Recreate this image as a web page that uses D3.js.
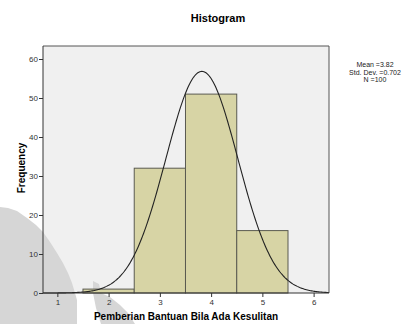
<!DOCTYPE html>
<html>
<head>
<meta charset="utf-8">
<script src="https://cdn.jsdelivr.net/npm/d3@7"></script>
<style>
  html, body { margin: 0; padding: 0; background: #fff; }
  svg { display: block; font-family: Arial, "Liberation Sans", sans-serif; }
</style>
</head>
<body>
<svg id="chart" width="408" height="324"></svg>
<script>
// Histogram bins: centre value and count (bin width 1)
const binCenters = [2, 3, 4, 5];
const binCounts = [1, 32, 51, 16];
const yTicks = [0, 10, 20, 30, 40, 50, 60];
const xTicks = [1, 2, 3, 4, 5, 6];
const stats = { mean: 3.82, sd: 0.702, n: 100 };
const statLines = ["Mean =3.82", "Std. Dev. =0.702", "N =100"];

const svg = d3.select("#chart");
const plot = { left: 43, right: 329, top: 46, bottom: 293 };

const x = d3.scaleLinear().domain([0.72, 6.3]).range([plot.left, plot.right]);
const y = d3.scaleLinear().domain([0, 60]).range([plot.bottom, 59]);

// plot background
svg.append("rect")
  .attr("x", plot.left).attr("y", plot.top)
  .attr("width", plot.right - plot.left).attr("height", plot.bottom - plot.top)
  .attr("fill", "#f0f0f0");

// grey shading in the lower-left corner
const shadeA = [[0,207],[8,208],[17,211],[27,218],[36,225],[43,232],[50,242],[57,253],[63,263],[68,273],[72,283],[75,293],[77,300],[77,324],[0,324]];
const shadeB = [[93,281],[99,284],[101,293],[110,297],[120,305],[128,313],[135,324],[101,324],[96,308],[93,293]];
svg.selectAll("path.shade").data([shadeA, shadeB]).join("path")
  .attr("class", "shade")
  .attr("d", d => d3.line()(d) + "Z")
  .attr("fill", "#d6d6d6");

// bars
svg.selectAll("rect.bar").data(binCenters).join("rect")
  .attr("class", "bar")
  .attr("x", (d) => x(d - 0.5))
  .attr("width", (d) => x(d + 0.5) - x(d - 0.5))
  .attr("y", (d, i) => y(binCounts[i]))
  .attr("height", (d, i) => y(0) - y(binCounts[i]))
  .attr("fill", "#d7d4a5")
  .attr("stroke", "#5a5a50")
  .attr("stroke-width", 1);

// normal curve scaled to counts
const pdf = v => stats.n * 1 / (stats.sd * Math.sqrt(2 * Math.PI)) *
  Math.exp(-0.5 * Math.pow((v - stats.mean) / stats.sd, 2));
const xs = d3.range(0.72, 6.3001, 0.02);
svg.append("path")
  .datum(xs)
  .attr("d", d3.line().x(v => x(v)).y(v => y(pdf(v))))
  .attr("fill", "none")
  .attr("stroke", "#222")
  .attr("stroke-width", 1.1);

// frame (top and right)
svg.append("path")
  .attr("d", `M${plot.left},${plot.top}H${plot.right}V${plot.bottom}`)
  .attr("fill", "none").attr("stroke", "#555").attr("stroke-width", 1);

// y axis
const yAxis = svg.append("g")
  .attr("transform", `translate(${plot.left},0)`)
  .call(d3.axisLeft(y).tickValues(yTicks).tickFormat(d3.format("d")).tickSize(4).tickPadding(1));
yAxis.select(".domain").attr("d", `M0,${plot.top}V${plot.bottom}`).attr("stroke", "#333");

// x axis
const xAxis = svg.append("g")
  .attr("transform", `translate(0,${plot.bottom})`)
  .call(d3.axisBottom(x).tickValues(xTicks).tickFormat(d3.format("d")).tickSize(4).tickPadding(2));
xAxis.select(".domain").attr("d", `M${plot.left},0H${plot.right}`).attr("stroke", "#333");

svg.selectAll(".tick line").attr("stroke", "#333");
svg.selectAll(".tick text").attr("font-size", 8).attr("fill", "#333")
  .attr("font-family", "Arial, 'Liberation Sans', sans-serif");

// title
svg.append("text").attr("x", 218).attr("y", 22)
  .attr("text-anchor", "middle").attr("font-weight", "bold").attr("font-size", 11)
  .text("Histogram");

// axis titles
svg.append("text").attr("x", 186).attr("y", 320)
  .attr("text-anchor", "middle").attr("font-weight", "bold").attr("font-size", 10)
  .text("Pemberian Bantuan Bila Ada Kesulitan");
svg.append("text")
  .attr("transform", "translate(25,168) rotate(-90)")
  .attr("text-anchor", "middle").attr("font-weight", "bold").attr("font-size", 10)
  .text("Frequency");

// summary statistics
svg.append("g").selectAll("text").data(statLines).join("text")
  .attr("x", 375).attr("y", (d, i) => 67 + i * 7.5)
  .attr("text-anchor", "middle").attr("font-size", 7).attr("fill", "#222")
  .text(d => d);
</script>
</body>
</html>
